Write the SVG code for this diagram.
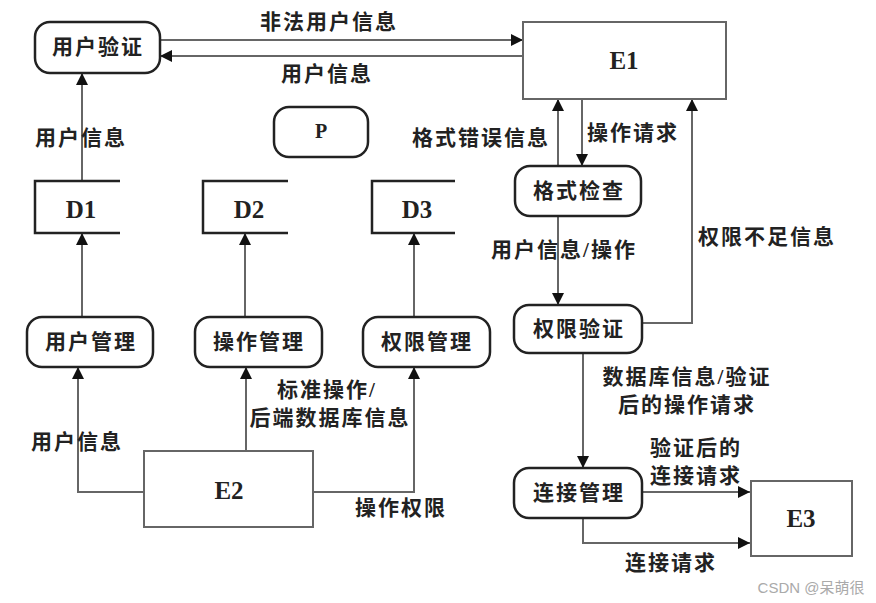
<svg xmlns="http://www.w3.org/2000/svg" width="876" height="603" viewBox="0 0 876 603">
<defs>
<marker id="arr" markerUnits="userSpaceOnUse" markerWidth="14" markerHeight="14" refX="12" refY="6" orient="auto">
<path d="M0,0 L12,6 L0,12 z" fill="#111"/>
</marker>
<style>
.proc{fill:#fff;stroke:#222;stroke-width:2.5}
.ext{fill:#fff;stroke:#666;stroke-width:2}
.store{fill:none;stroke:#222;stroke-width:2.5}
.con{fill:none;stroke:#666;stroke-width:2;marker-end:url(#arr)}
.t{font-family:"Liberation Serif","Noto Sans CJK SC",serif;font-size:21px;font-weight:bold;fill:#222;letter-spacing:2px;text-anchor:middle;dominant-baseline:central}
.e{font-family:"Liberation Serif",serif;font-size:25px;font-weight:bold;fill:#222;text-anchor:middle;dominant-baseline:central}
.wm{font-family:"Liberation Sans","Noto Sans CJK SC",sans-serif;font-size:15px;fill:#aaa;text-anchor:middle;dominant-baseline:central}
</style>
</defs>
<rect width="876" height="603" fill="#fff"/>
<g id="connectors">
<path class="con" d="M160,40 H523"/>
<path class="con" d="M523,56 H160"/>
<path class="con" d="M82,181 V73"/>
<path class="con" d="M82,317 V233"/>
<path class="con" d="M245,317 V233"/>
<path class="con" d="M414,317 V233"/>
<path class="con" d="M144,492 H78 V367"/>
<path class="con" d="M246,451 V367"/>
<path class="con" d="M313,492 H414 V367"/>
<path class="con" d="M558,166 V99"/>
<path class="con" d="M582,99 V166"/>
<path class="con" d="M642,323 H692 V99"/>
<path class="con" d="M558,216 V305"/>
<path class="con" d="M583,353 V468"/>
<path class="con" d="M642,492 H750"/>
<path class="con" d="M583,518 V543 H750"/>
</g>
<g id="labels">
<text class="t" x="329" y="22">非法用户信息</text>
<text class="t" x="327" y="74">用户信息</text>
<text class="t" x="81" y="138">用户信息</text>
<text class="t" x="77" y="442">用户信息</text>
<text class="t" x="327" y="390">标准操作/</text>
<text class="t" x="330" y="418">后端数据库信息</text>
<text class="t" x="401" y="508">操作权限</text>
<text class="t" x="481" y="138">格式错误信息</text>
<text class="t" x="633" y="133">操作请求</text>
<text class="t" x="767" y="237">权限不足信息</text>
<text class="t" x="564" y="250">用户信息/操作</text>
<text class="t" x="687" y="377">数据库信息/验证</text>
<text class="t" x="687" y="405">后的操作请求</text>
<text class="t" x="696" y="448">验证后的</text>
<text class="t" x="696" y="476">连接请求</text>
<text class="t" x="671" y="563">连接请求</text>
</g>
<g id="n-yonghuyanzheng"><rect class="proc" x="35" y="22" width="125" height="51" rx="15"/><text class="t" x="98" y="47">用户验证</text></g>
<g id="n-E1"><rect class="ext" x="523" y="22" width="203" height="77"/><text class="e" x="624" y="60">E1</text></g>
<g id="n-P"><rect class="proc" x="274" y="107" width="94" height="50" rx="15"/><text class="e" x="321" y="131" style="font-size:20px">P</text></g>
<g id="n-D1"><path class="store" d="M120,181 H35 V233 H120"/><text class="e" x="81" y="209">D1</text></g>
<g id="n-D2"><path class="store" d="M288,181 H203 V233 H288"/><text class="e" x="249" y="209">D2</text></g>
<g id="n-D3"><path class="store" d="M455,181 H372 V233 H455"/><text class="e" x="417" y="209">D3</text></g>
<g id="n-yonghuguanli"><rect class="proc" x="27" y="317" width="126" height="50" rx="15"/><text class="t" x="91" y="342">用户管理</text></g>
<g id="n-caozuoguanli"><rect class="proc" x="195" y="317" width="127" height="50" rx="15"/><text class="t" x="259" y="342">操作管理</text></g>
<g id="n-quanxianguanli"><rect class="proc" x="363" y="317" width="127" height="50" rx="15"/><text class="t" x="427" y="342">权限管理</text></g>
<g id="n-E2"><rect class="ext" x="144" y="451" width="169" height="76"/><text class="e" x="229" y="490">E2</text></g>
<g id="n-geshijiancha"><rect class="proc" x="515" y="166" width="126" height="50" rx="15"/><text class="t" x="579" y="191">格式检查</text></g>
<g id="n-quanxianyanzheng"><rect class="proc" x="514" y="305" width="128" height="48" rx="15"/><text class="t" x="579" y="329">权限验证</text></g>
<g id="n-lianjieguanli"><rect class="proc" x="514" y="468" width="128" height="50" rx="15"/><text class="t" x="579" y="493">连接管理</text></g>
<g id="n-E3"><rect class="ext" x="751" y="481" width="101" height="75"/><text class="e" x="801" y="518">E3</text></g>
<text class="wm" x="811" y="587">CSDN @呆萌很</text>
</svg>
